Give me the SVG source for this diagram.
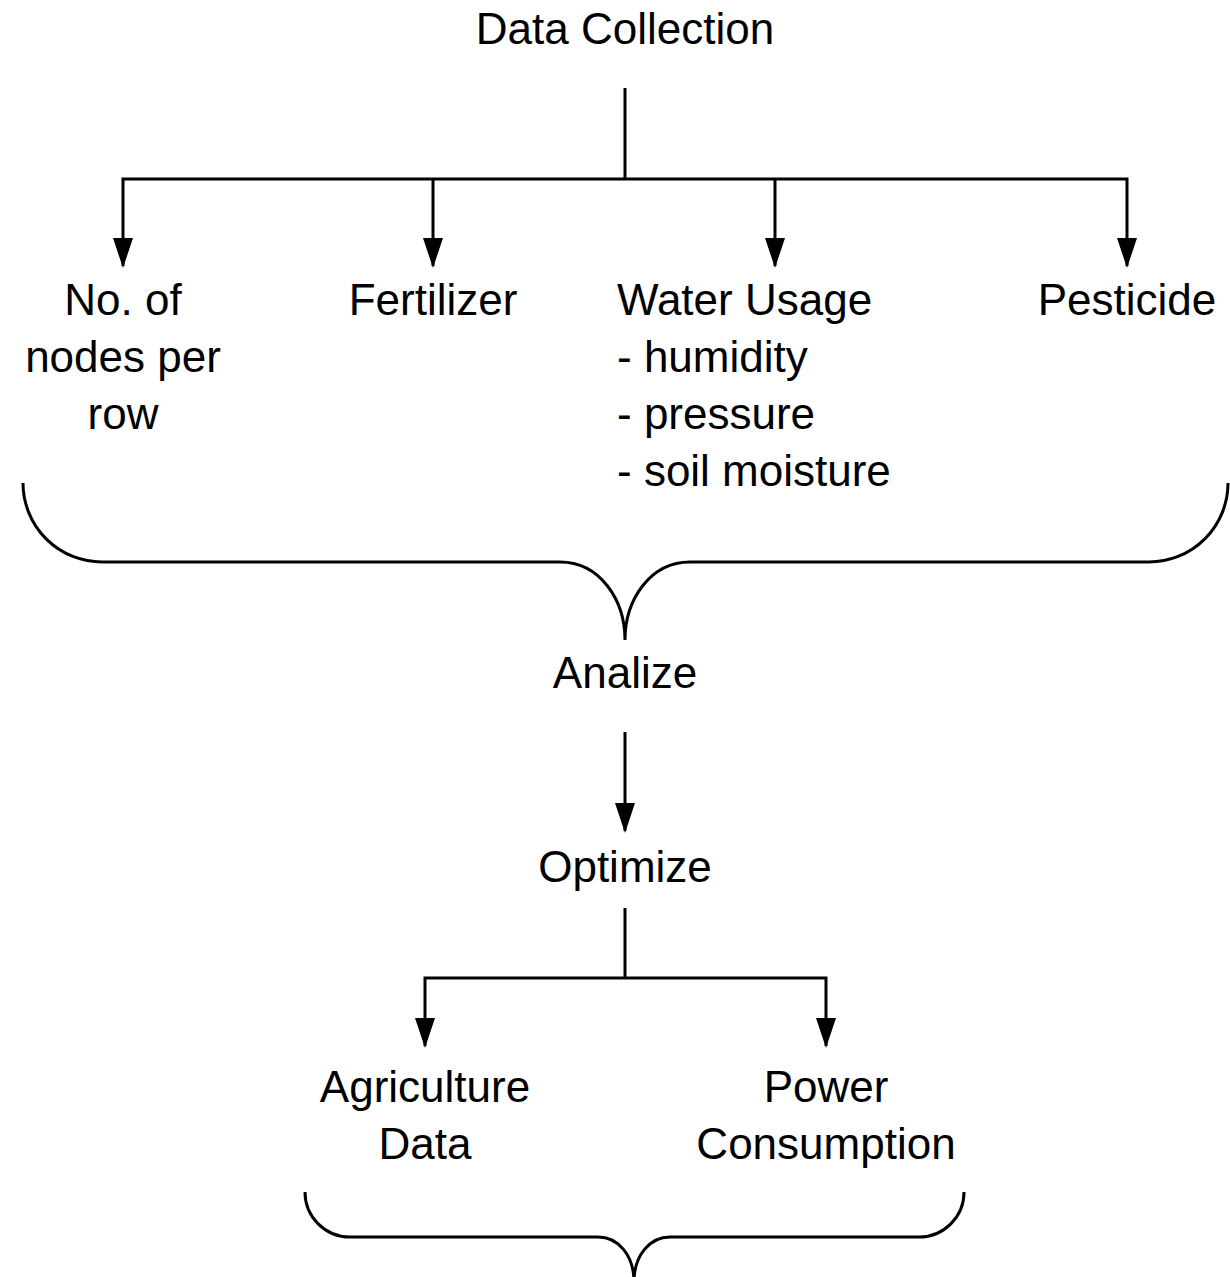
<svg xmlns="http://www.w3.org/2000/svg" width="1230" height="1277" viewBox="0 0 1230 1277">
  <style>
    .lbl { font-family: "Liberation Sans", Arial, sans-serif; font-size: 44px; fill: #000; }
    .mid { text-anchor: middle; }
    .wire { fill: none; stroke: #000; stroke-width: 3; }
  </style>
  <defs>
    <!-- filled arrowhead, 30 long by 20 wide, tip 2px past the line end -->
    <marker id="arrow" viewBox="0 0 30 20" refX="28" refY="10" markerWidth="30" markerHeight="20" markerUnits="userSpaceOnUse" orient="auto-start-reverse">
      <path d="M0,0 L30,10 L0,20 Z" fill="#000"/>
    </marker>
  </defs>
  <rect width="1230" height="1277" fill="#fff"/>

  <g id="connectors">
    <!-- Data Collection fan-out -->
    <path class="wire" d="M625,88 V179"/>
    <path class="wire" d="M123,266 V179 H1127 V266" marker-start="url(#arrow)" marker-end="url(#arrow)"/>
    <path class="wire" d="M433,179 V266" marker-end="url(#arrow)"/>
    <path class="wire" d="M775,179 V266" marker-end="url(#arrow)"/>
    <!-- brace gathering the four inputs -->
    <path class="wire" d="M23,483 A79,79 0 0 0 102,562 H560 C600,562 625,600 625,640 C625,600 650,562 690,562 H1149 A79,79 0 0 0 1228,483"/>
    <!-- Analize to Optimize -->
    <path class="wire" d="M625,732 V831" marker-end="url(#arrow)"/>
    <!-- Optimize fan-out -->
    <path class="wire" d="M625,908 V978"/>
    <path class="wire" d="M425,1046 V978 H826 V1046" marker-start="url(#arrow)" marker-end="url(#arrow)"/>
    <!-- brace under the outputs -->
    <path class="wire" d="M305,1192 A45,45 0 0 0 350,1237 H598 C618,1237 634,1255 634,1282 C634,1255 650,1237 670,1237 H919 A45,45 0 0 0 964,1192"/>
  </g>

  <g id="data-collection"><text class="lbl mid" x="625" y="44">Data Collection</text></g>
  <g id="nodes-per-row">
    <text class="lbl mid" x="123" y="315">No. of</text>
    <text class="lbl mid" x="123" y="372">nodes per</text>
    <text class="lbl mid" x="123" y="429">row</text>
  </g>
  <g id="fertilizer"><text class="lbl mid" x="433" y="315">Fertilizer</text></g>
  <g id="water-usage">
    <text class="lbl" x="617" y="315">Water Usage</text>
    <text class="lbl" x="617" y="372">- humidity</text>
    <text class="lbl" x="617" y="429">- pressure</text>
    <text class="lbl" x="617" y="486">- soil moisture</text>
  </g>
  <g id="pesticide"><text class="lbl mid" x="1127" y="315">Pesticide</text></g>
  <g id="analize"><text class="lbl mid" x="625" y="688">Analize</text></g>
  <g id="optimize"><text class="lbl mid" x="625" y="882">Optimize</text></g>
  <g id="agriculture-data">
    <text class="lbl mid" x="425" y="1102">Agriculture</text>
    <text class="lbl mid" x="425" y="1159">Data</text>
  </g>
  <g id="power-consumption">
    <text class="lbl mid" x="826" y="1102">Power</text>
    <text class="lbl mid" x="826" y="1159">Consumption</text>
  </g>
</svg>
